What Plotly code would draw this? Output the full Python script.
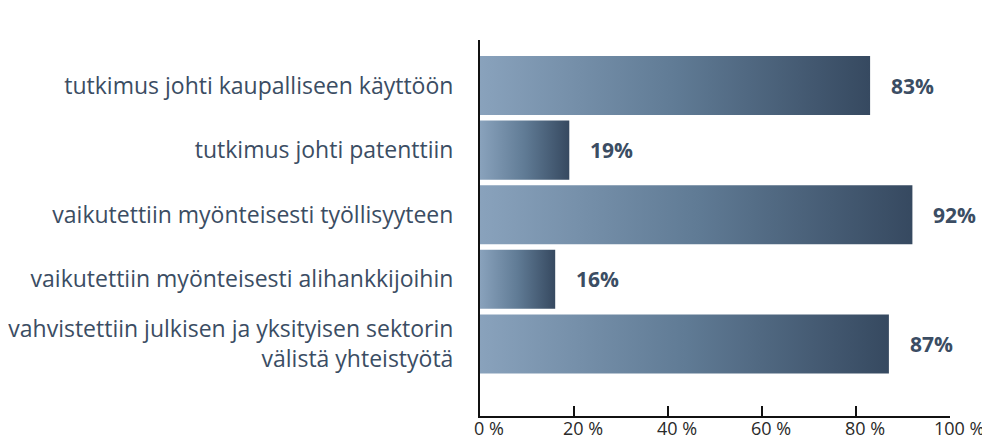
import plotly.graph_objects as go

categories = [
    "tutkimus johti kaupalliseen käyttöön",
    "tutkimus johti patenttiin",
    "vaikutettiin myönteisesti työllisyyteen",
    "vaikutettiin myönteisesti alihankkijoihin",
    "vahvistettiin julkisen ja yksityisen sektorin<br>välistä yhteistyötä",
]
values = [83, 19, 92, 16, 87]
value_labels = ["83%", "19%", "92%", "16%", "87%"]
x_tickvals = [0, 20, 40, 60, 80, 100]
x_ticktext = ["0 %", "20 %", "40 %", "60 %", "80 %", "100 %"]

TEXT = "#3b4d63"
FONT = "Open Sans, Noto Sans, sans-serif"
half = 0.457

n = len(categories)
ypos = [n - 1 - i for i in range(n)]

fig = go.Figure()
for v, y in zip(values, ypos):
    fig.add_trace(go.Scatter(
        x=[0, v, v, 0, 0],
        y=[y - half, y - half, y + half, y + half, y - half],
        mode="lines",
        fill="toself",
        line=dict(width=0),
        fillgradient=dict(type="horizontal",
                          colorscale=[[0, "#89a2bc"], [0.5, "#607b95"], [1, "#364960"]]),
        hoverinfo="skip",
        showlegend=False,
    ))

for v, y, lab in zip(values, ypos, value_labels):
    fig.add_annotation(x=v, y=y, text="<b>" + lab + "</b>", showarrow=False,
                       xanchor="left", yanchor="middle", xshift=19,
                       font=dict(family=FONT, size=21, color=TEXT))

# x tick labels (number centred on the tick, as in the reference)
for tv, tt in zip(x_tickvals, x_ticktext):
    fig.add_annotation(x=tv, xref="x", y=0, yref="paper", text=tt, showarrow=False,
                       xanchor="center", yanchor="middle", xshift=9, yshift=-12,
                       borderpad=0,
                       font=dict(family=FONT, size=18, color="#2a2a2a"))

fig.update_layout(
    width=982, height=433,
    margin=dict(l=472, r=40, t=32, b=25),
    paper_bgcolor="white", plot_bgcolor="white",
    showlegend=False,
    xaxis=dict(range=[0, 100], tickvals=x_tickvals, showticklabels=False,
               showgrid=False, zeroline=False, showline=True, linecolor="#111",
               linewidth=2, ticks="inside", ticklen=10, tickwidth=2, tickcolor="#111",
               automargin=False, fixedrange=True),
    yaxis=dict(range=[-1.116, 4.705], tickvals=ypos, ticktext=categories,
               showgrid=False, zeroline=False, showline=True, linecolor="#111",
               linewidth=2, ticks="", ticklabelstandoff=20,
               tickfont=dict(family=FONT, size=23, color=TEXT),
               automargin=False, fixedrange=True),
)

fig.write_html("out.html")
